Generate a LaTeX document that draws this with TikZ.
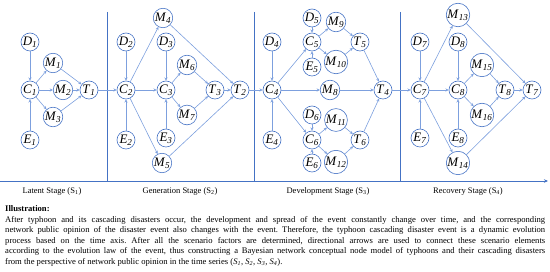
\documentclass[tikz,border=0pt]{standalone}
\usepackage{fontspec}
\setmainfont{Liberation Serif}
\usetikzlibrary{arrows.meta}
\definecolor{ndblue}{RGB}{68,114,196}
\definecolor{lnblue}{RGB}{125,160,222}
\newcommand{\nd}[2]{\textit{#1}\textsubscript{\textit{#2}}}
\frenchspacing
\begin{document}
\begin{tikzpicture}[x=1pt, y=-1pt, line join=round, >={Stealth[length=3.2pt,width=3pt]},
	nd/.style={circle, draw=ndblue, semithick, minimum size=18pt, inner sep=0pt, font=\fontsize{13}{13}\selectfont},
	ar/.style={->, lnblue, semithick},
	sepline/.style={ndblue, line width=0.9pt},
	stage/.style={font=\fontsize{8.5}{10}\selectfont}]
	\useasboundingbox (0,0) rectangle (550,272);
	
	% Trục thời gian và các vạch chia giai đoạn
	\draw[sepline, -{Stealth[length=4pt,width=3.5pt]}] (0,181)--(548,181);
	\draw[sepline] (107,12)--(107,181);
	\draw[sepline] (254,12)--(254,181);
	\draw[sepline] (400,12)--(400,181);
	
	% Giai đoạn S1
	\node[nd] (D1) at (30,42)  {\nd{D}{1}};
	\node[nd] (C1) at (30,90)  {\nd{C}{1}};
	\node[nd] (E1) at (30,140) {\nd{E}{1}};
	\node[nd] (M1) at (53,63)  {\nd{M}{1}};
	\node[nd] (M2) at (63,90)  {\nd{M}{2}};
	\node[nd] (M3) at (53,117) {\nd{M}{3}};
	\node[nd] (T1) at (89,90)  {\nd{T}{1}};
	
	% Giai đoạn S2
	\node[nd] (D2) at (126,42)  {\nd{D}{2}};
	\node[nd] (C2) at (126,90)  {\nd{C}{2}};
	\node[nd] (E2) at (126,140) {\nd{E}{2}};
	\node[nd] (M4) at (163,18)  {\nd{M}{4}};
	\node[nd] (D3) at (166,42)  {\nd{D}{3}};
	\node[nd] (C3) at (166,90)  {\nd{C}{3}};
	\node[nd] (E3) at (166,138) {\nd{E}{3}};
	\node[nd] (M5) at (162,163) {\nd{M}{5}};
	\node[nd] (M6) at (187,65)  {\nd{M}{6}};
	\node[nd] (M7) at (187,115) {\nd{M}{7}};
	\node[nd] (T3) at (215,90)  {\nd{T}{3}};
	\node[nd] (T2) at (240,90)  {\nd{T}{2}};
	
	% Giai đoạn S3
	\node[nd] (D4) at (272,42)  {\nd{D}{4}};
	\node[nd] (C4) at (272,90)  {\nd{C}{4}};
	\node[nd] (E4) at (272,140) {\nd{E}{4}};
	\node[nd] (D5) at (312,18)  {\nd{D}{5}};
	\node[nd] (C5) at (312,42)  {\nd{C}{5}};
	\node[nd] (E5) at (312,67)  {\nd{E}{5}};
	\node[nd] (M9) at (336,22)  {\nd{M}{9}};
	\node[nd] (M10) at (336,62) {\nd{M}{10}};
	\node[nd] (T5) at (360,42)  {\nd{T}{5}};
	\node[nd] (M8) at (330,90)  {\nd{M}{8}};
	\node[nd] (T4) at (383,90)  {\nd{T}{4}};
	\node[nd] (D6) at (312,115) {\nd{D}{6}};
	\node[nd] (C6) at (312,140) {\nd{C}{6}};
	\node[nd] (E6) at (312,163) {\nd{E}{6}};
	\node[nd] (M11) at (336,120) {\nd{M}{11}};
	\node[nd] (M12) at (336,162) {\nd{M}{12}};
	\node[nd] (T6) at (360,140) {\nd{T}{6}};
	
	% Giai đoạn S4
	\node[nd] (D7) at (420,42)  {\nd{D}{7}};
	\node[nd] (C7) at (420,90)  {\nd{C}{7}};
	\node[nd] (E7) at (420,138) {\nd{E}{7}};
	\node[nd] (M13) at (458,15) {\nd{M}{13}};
	\node[nd] (D8) at (458,42)  {\nd{D}{8}};
	\node[nd] (C8) at (458,90)  {\nd{C}{8}};
	\node[nd] (E8) at (458,138) {\nd{E}{8}};
	\node[nd] (M14) at (458,163) {\nd{M}{14}};
	\node[nd] (M15) at (482,65) {\nd{M}{15}};
	\node[nd] (M16) at (482,115) {\nd{M}{16}};
	\node[nd] (T8) at (505,90)  {\nd{T}{8}};
	\node[nd] (T7) at (532,90)  {\nd{T}{7}};
	
	% Mũi tên
	\foreach \a/\b in {D1/C1, E1/C1, C1/M1, C1/M2, C1/M3, M1/T1, M2/T1, M3/T1, T1/C2,
		D2/C2, E2/C2, C2/M4, C2/C3, C2/M5, D3/C3, E3/C3, C3/M6, C3/M7, M6/T3, M7/T3,
		T3/T2, M4/T2, M5/T2, T2/C4,
		D4/C4, E4/C4, C4/C5, C4/M8, C4/C6, D5/C5, E5/C5, C5/M9, C5/M10, M9/T5, M10/T5,
		T5/T4, M8/T4, D6/C6, E6/C6, C6/M11, C6/M12, M11/T6, M12/T6, T6/T4, T4/C7,
		D7/C7, E7/C7, C7/M13, C7/C8, C7/M14, D8/C8, E8/C8, C8/M15, C8/M16,
		M15/T8, M16/T8, T8/T7, M13/T7, M14/T7}
		\draw[ar] (\a)--(\b);
	
	% Tên giai đoạn
	\node[stage] (S1) at (52,191)  {Latent Stage (S\textsubscript{1})};
	\node[stage] (S2) at (180,191) {Generation Stage (S\textsubscript{2})};
	\node[stage] (S3) at (328,191) {Development Stage (S\textsubscript{3})};
	\node[stage] (S4) at (468,191) {Recovery Stage (S\textsubscript{4})};
	
	% Chú thích
	\node[anchor=west, inner sep=0pt, font=\fontsize{8.6}{10.5}\selectfont\bfseries] (ill) at (5,209) {Illustration:};
	\node[anchor=north west, inner sep=0pt, text width=540pt, align=justify,
		font=\fontsize{8.6}{10.5}\selectfont] (txt) at (5,216)
	{After typhoon and its cascading disasters occur, the development and spread of the event constantly change over time, and the corresponding\linebreak
	network public opinion of the disaster event also changes with the event. Therefore, the typhoon cascading disaster event is a dynamic evolution\linebreak
	process based on the time axis. After all the scenario factors are determined, directional arrows are used to connect these scenario elements\linebreak
	according to the evolution law of the event, thus constructing a Bayesian network conceptual node model of typhoons and their cascading disasters\linebreak
	from the perspective of network public opinion in the time series (\nd{S}{1}, \nd{S}{2}, \nd{S}{3}, \nd{S}{4}).};
\end{tikzpicture}
\end{document}
